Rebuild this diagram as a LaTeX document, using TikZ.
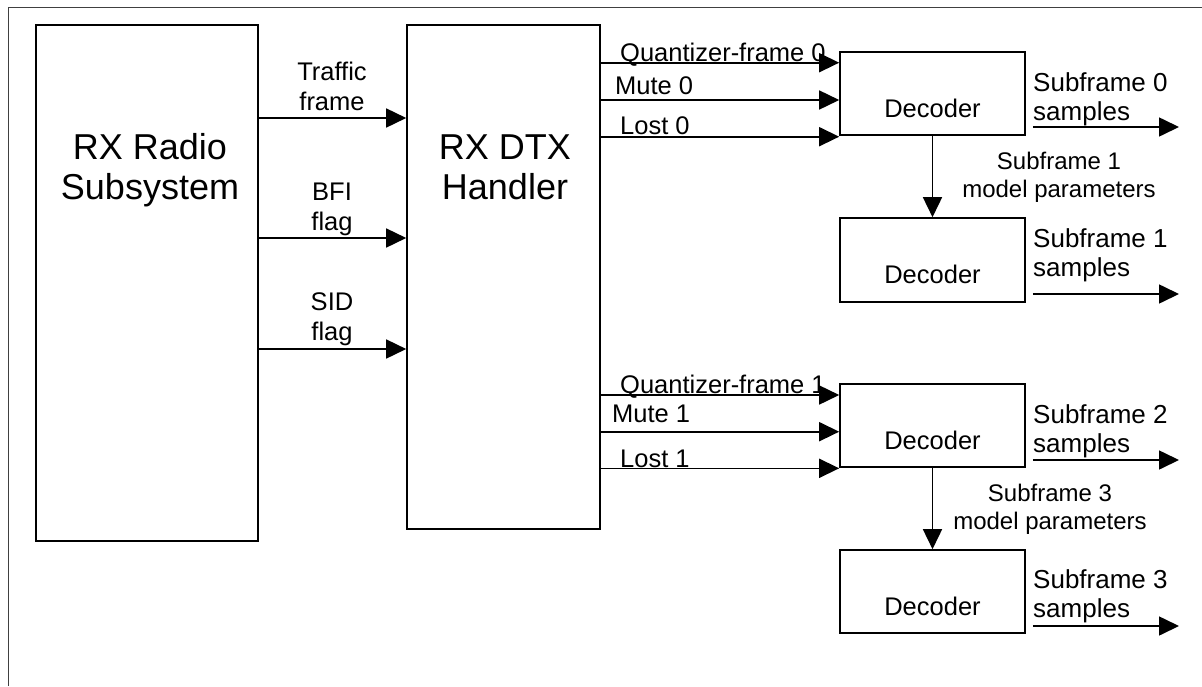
\documentclass[tikz,border=0pt]{standalone}
\usepackage{fontspec}
\setmainfont{Liberation Sans}
\usetikzlibrary{arrows.meta}
\begin{document}
\begin{tikzpicture}[x=1pt,y=-1pt,
  box/.style={draw, line width=1.6pt, inner sep=0pt},
  arr/.style={line width=1.6pt, -{Triangle[length=20pt,width=19pt]}},
  big/.style={font=\fontsize{36}{40}\selectfont, align=center, inner sep=0pt, anchor=base},
  lbl/.style={font=\fontsize{25.5}{30}\selectfont, align=center, inner sep=0pt, anchor=base},
  sig/.style={font=\fontsize{25.5}{30}\selectfont, inner sep=0pt, anchor=base west},
  outlbl/.style={font=\fontsize{26}{29}\selectfont, align=left, inner sep=0pt, anchor=base west},
  parlbl/.style={font=\fontsize{24}{28}\selectfont, align=center, inner sep=0pt, anchor=base},
  dectext/.style={font=\fontsize{25.5}{30}\selectfont, inner sep=0pt, anchor=base}
]
\useasboundingbox (0,0) rectangle (1202,686);

% open frame along the top and left
\draw[line width=1.5pt, black!75] (8.5,686) |- (1202,7.5);

% main blocks (multi-line texts are placed by the baseline of their last line)
\node[box, minimum width=222pt, minimum height=516pt] (radio) at (147,283) {};
\node[big] (radiotxt) at (150,199) {RX Radio\\Subsystem};
\node[box, minimum width=193pt, minimum height=504pt] (dtx) at (503.5,277) {};
\node[big] (dtxtxt) at (505,199) {RX DTX\\Handler};

% decoders
\node[box, minimum width=185pt, minimum height=83pt] (dec1) at (932.5,93.5) {};
\node[box, minimum width=185pt, minimum height=84pt] (dec2) at (932.5,260) {};
\node[box, minimum width=185pt, minimum height=83pt] (dec3) at (932.5,425.5) {};
\node[box, minimum width=185pt, minimum height=83pt] (dec4) at (932.5,591.5) {};
\foreach \d in {dec1,dec2,dec3,dec4}
  \node[dectext] (\d txt) at ([yshift=-66pt]\d.north) {Decoder};

% radio -> DTX handler
\draw[arr] (radio.east |- 0,118) -- (dtx.west |- 0,118);
\draw[arr] (radio.east |- 0,238) -- (dtx.west |- 0,238);
\draw[arr] (radio.east |- 0,349) -- (dtx.west |- 0,349);
\node[lbl] (ltraffic) at (332,110) {Traffic\\frame};
\node[lbl] (lbfi) at (332,230) {BFI\\flag};
\node[lbl] (lsid) at (332,340) {SID\\flag};

% DTX handler -> decoders
\draw[arr] (dtx.east |- 0,62.7) -- (dec1.west |- 0,62.7);
\draw[arr] (dtx.east |- 0,100) -- (dec1.west |- 0,100);
\draw[arr] (dtx.east |- 0,136.7) -- (dec1.west |- 0,136.7);
\node[sig] (lq0) at (620,61) {Quantizer-frame 0};
\node[sig] (lm0) at (615,94) {Mute 0};
\node[sig] (ll0) at (620,134) {Lost 0};

\draw[arr] (dtx.east |- 0,395) -- (dec3.west |- 0,395);
\draw[arr] (dtx.east |- 0,431.7) -- (dec3.west |- 0,431.7);
\draw[arr] (dtx.east |- 0,468.3) -- (dec3.west |- 0,468.3);
\node[sig] (lq1) at (620,393) {Quantizer-frame 1};
\node[sig] (lm1) at (612,422) {Mute 1};
\node[sig] (ll1) at (620,467) {Lost 1};

% model parameters between decoders
\draw[arr] (dec1.south) -- (dec2.north);
\draw[arr] (dec3.south) -- (dec4.north);
\node[parlbl] (p1) at (1059,197) {Subframe 1\\model parameters};
\node[parlbl] (p3) at (1050,529) {Subframe 3\\model parameters};

% sample outputs
\coordinate (o0) at (1179,127);
\coordinate (o1) at (1179,294);
\coordinate (o2) at (1179,460);
\coordinate (o3) at (1179,626);
\draw[arr] ([xshift=7pt]dec1.east |- o0) -- (o0);
\draw[arr] ([xshift=7pt]dec2.east |- o1) -- (o1);
\draw[arr] ([xshift=7pt]dec3.east |- o2) -- (o2);
\draw[arr] ([xshift=7pt]dec4.east |- o3) -- (o3);
\node[outlbl] (s0) at (1033,120) {Subframe 0\\samples};
\node[outlbl] (s1) at (1033,276) {Subframe 1\\samples};
\node[outlbl] (s2) at (1033,452) {Subframe 2\\samples};
\node[outlbl] (s3) at (1033,617) {Subframe 3\\samples};
\end{tikzpicture}
\end{document}
